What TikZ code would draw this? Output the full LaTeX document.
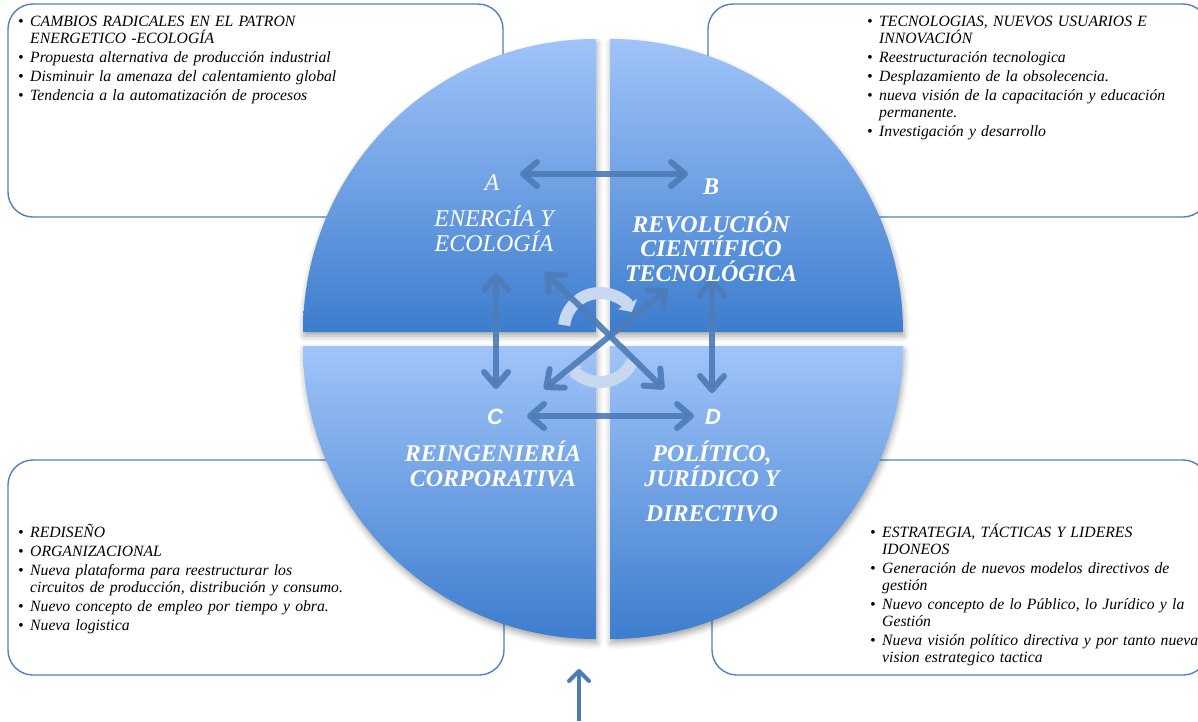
\documentclass[tikz,border=0pt]{standalone}
\usepackage{fontspec}
\setmainfont{Liberation Serif}
\newfontfamily\lettersans{Liberation Sans}
\usepackage{tikz}
\usetikzlibrary{arrows.meta,positioning,calc,shadows.blur}

\definecolor{quadlight}{RGB}{160,196,249}
\definecolor{quaddark}{RGB}{61,125,206}
\definecolor{boxedge}{RGB}{79,129,189}
\definecolor{linkblue}{RGB}{78,124,184}
\definecolor{swirlblue}{RGB}{200,216,241}

\newcommand{\itm}[1]{\par\hangindent=12pt\hangafter=1\noindent\makebox[12pt][l]{\textbullet}#1}

\tikzset{
  infobox/.style={draw=boxedge, line width=1.4pt, rounded corners=25pt},
  quarter/.style={top color=quadlight, bottom color=quaddark,
    blur shadow={shadow xshift=1pt, shadow yshift=-4pt, shadow blur radius=6pt, shadow opacity=35}},
  bullets/.style={anchor=base west, inner sep=0pt, text width=#1, align=left,
    font=\itshape\fontsize{15.7}{17}\selectfont\setlength{\parskip}{2pt}},
  qtitle/.style={text=white, align=center, font=\itshape\fontsize{24}{24.5}\selectfont},
  qbold/.style={text=white, align=center, font=\bfseries\itshape\fontsize{24}{24.5}\selectfont},
  qsans/.style={text=white, font=\lettersans\bfseries\itshape\fontsize{22}{24}\selectfont},
  link/.style={draw=linkblue, line width=6pt, opacity=0.92,
    {Straight Barb[length=14pt,width=24pt,round]}-{Straight Barb[length=14pt,width=24pt,round]}},
  swirl/.style={draw=swirlblue, line width=12pt, -{Triangle[length=9pt,width=21pt]}},
  inarrow/.style={draw=linkblue, line width=4pt, -{Straight Barb[length=10pt,width=20pt,round]}},
}

\begin{document}
\begin{tikzpicture}[x=1pt,y=1pt]
  \useasboundingbox (0,0) rectangle (1198,-721);

  % text boxes behind the circle
  \draw[infobox] (8,-4) rectangle (503,-217);
  \draw[infobox] (708,-4) rectangle (1208,-217);
  \draw[infobox] (8,-460) rectangle (504,-675);
  \draw[infobox] (712,-460) rectangle (1208,-675);

  % the four quarters
  \path[quarter] (596,-332) -- (303,-332) arc (180:90:293) -- cycle;
  \path[quarter] (610,-332) -- (610,-39) arc (90:0:293) -- cycle;
  \path[quarter] (596,-346) -- (303,-346) arc (180:270:293) -- cycle;
  \path[quarter] (610,-346) -- (903,-346) arc (0:-90:293) -- cycle;

  % bullet lists
  \node[bullets=480pt] (listA) at (18,-7) {%
    \itm{CAMBIOS RADICALES EN EL PATRON\newline ENERGETICO -ECOLOGÍA}
    \itm{Propuesta alternativa de producción industrial}
    \itm{Disminuir la amenaza del calentamiento global}
    \itm{Tendencia a la automatización de procesos}\par};
  \node[bullets=360pt] (listB) at (867,-7) {%
    \itm{TECNOLOGIAS, NUEVOS USUARIOS E\newline INNOVACIÓN}
    \itm{Reestructuración tecnologica}
    \itm{Desplazamiento de la obsolecencia.}
    \itm{nueva visión de la capacitación y educación\newline permanente.}
    \itm{Investigación y desarrollo}\par};
  \node[bullets=480pt] (listC) at (18,-518) {%
    \itm{REDISEÑO}
    \itm{ORGANIZACIONAL}
    \itm{Nueva plataforma para reestructurar los\newline circuitos de producción, distribución y consumo.}
    \itm{Nuevo concepto de empleo por tiempo y obra.}
    \itm{Nueva logistica}\par};
  \node[bullets=360pt] (listD) at (870,-518) {%
    \itm{ESTRATEGIA, TÁCTICAS Y LIDERES\newline IDONEOS}
    \itm{Generación de nuevos modelos directivos de\newline gestión}
    \itm{Nuevo concepto de lo Público, lo Jurídico y la\newline Gestión}
    \itm{Nueva visión político directiva y por tanto nueva\newline vision estrategico tactica}\par};

  % turning arrows in the middle
  \draw[swirl] (564.2,-325.2) arc (174:28:36);
  \draw[swirl] (633.4,-359.5) arc (-22:-150:36);

  % arrow ends
  \coordinate (AtoB) at (520,-174);
  \coordinate (BtoA) at (688,-174);
  \coordinate (CtoD) at (527,-416);
  \coordinate (DtoC) at (694,-416);
  \coordinate (AtoC) at (496,-273);
  \coordinate (CtoA) at (496,-389);
  \coordinate (BtoD) at (712,-278);
  \coordinate (DtoB) at (712,-393);
  \coordinate (AtoD) at (545,-272);
  \coordinate (DtoA) at (664,-389);
  \coordinate (BtoC) at (668,-289);
  \coordinate (CtoB) at (544,-389);
  \coordinate (inS) at (579,-721);
  \coordinate (inN) at (579,-669);

  \draw[link] (AtoB) -- (BtoA);
  \draw[link] (CtoD) -- (DtoC);
  \draw[link] (AtoC) -- (CtoA);
  \draw[link] (BtoD) -- (DtoB);
  \draw[link] (AtoD) -- (DtoA);
  \draw[link] (BtoC) -- (CtoB);
  \draw[inarrow] (inS) -- (inN);

  % quarter titles
  \node[qtitle] (A) at (492,-183) {A};
  \node[qtitle] (energia) at (494,-229) {ENERGÍA Y\\ECOLOGÍA};
  \node[qbold] (B) at (711,-187) {B};
  \node[qbold] (revolucion) at (711,-246.5) {REVOLUCIÓN\\CIENTÍFICO\\TECNOLÓGICA};
  \node[qsans] (C) at (495,-417) {C};
  \node[qsans] (D) at (713,-417) {D};
  \node[qbold] (reingenieria) at (493,-464) {REINGENIERÍA\\CORPORATIVA};
  \node[qbold] (politico) at (712,-481.5) {POLÍTICO,\\JURÍDICO Y\\[11pt]DIRECTIVO};

\end{tikzpicture}
\end{document}
